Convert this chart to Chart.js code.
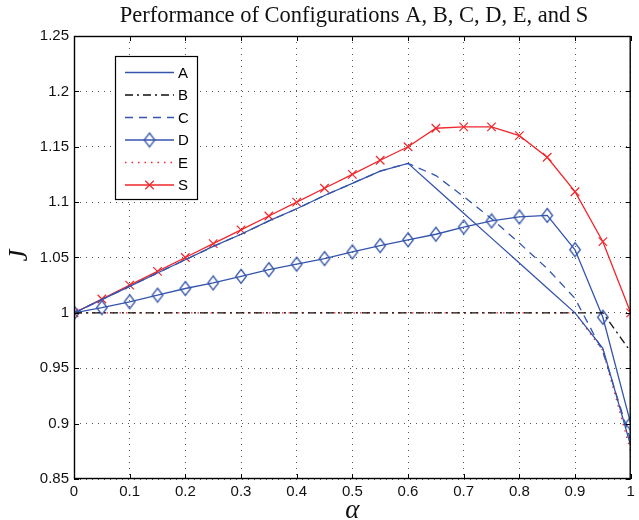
<!DOCTYPE html>
<html>
<head>
<meta charset="utf-8">
<script src="https://cdn.jsdelivr.net/npm/chart.js@4/dist/chart.umd.min.js"></script>
<style>
  html, body { margin: 0; padding: 0; background: #fff; }
  #wrap { width: 639px; height: 520px; }
</style>
</head>
<body>
<div id="wrap"><canvas id="c" width="639" height="520"></canvas></div>
<script>
// ---- data ----
const alpha = [0, 0.05, 0.1, 0.15, 0.2, 0.25, 0.3, 0.35, 0.4, 0.45, 0.5, 0.55, 0.6, 0.65, 0.7, 0.75, 0.8, 0.85, 0.9, 0.95, 1];
const seriesA = [1.000, 1.012, 1.024, 1.036, 1.048, 1.060, 1.071, 1.083, 1.094, 1.106, 1.117, 1.128, 1.135, 1.1125, 1.090, 1.0675, 1.045, 1.0225, 1.000, 0.968, 0.880];
const seriesB = [1, 1, 1, 1, 1, 1, 1, 1, 1, 1, 1, 1, 1, 1, 1, 1, 1, 1, 1, 1, 0.965];
const seriesC = [1.000, 1.012, 1.024, 1.036, 1.048, 1.060, 1.071, 1.083, 1.094, 1.106, 1.117, 1.128, 1.135, 1.124, 1.105, 1.085, 1.063, 1.040, 1.013, 0.965, 0.885];
const seriesD = [1.000, 1.0047, 1.010, 1.016, 1.022, 1.027, 1.033, 1.039, 1.044, 1.049, 1.055, 1.0607, 1.066, 1.071, 1.0775, 1.083, 1.0866, 1.088, 1.057, 0.996, 0.900];
const seriesE = [1, 1, 1, 1, 1, 1, 1, 1, 1, 1, 1, 1, 1, 1, 1, 1, 1, 1, 1, 0.966, 0.875];
const seriesS = [1.000, 1.0125, 1.025, 1.0375, 1.050, 1.0625, 1.075, 1.0875, 1.100, 1.1125, 1.125, 1.1378, 1.150, 1.1667, 1.168, 1.168, 1.160, 1.1405, 1.1094, 1.0643, 1.000];
const seriesNames = ['A', 'B', 'C', 'D', 'E', 'S'];
const xTickValues = [0, 0.1, 0.2, 0.3, 0.4, 0.5, 0.6, 0.7, 0.8, 0.9, 1];
const yTickValues = [0.85, 0.9, 0.95, 1, 1.05, 1.1, 1.15, 1.2, 1.25];
const titleText = 'Performance of Configurations A, B, C, D, E, and S';
const xLabelText = 'α';
const yLabelText = 'J';

// ---- styling ----
const BLUE = '#3455ac';
const RED = '#f2262b';
const BLACK = '#111111';
const LW = 1.3;

function pts(ys) { return alpha.map((x, i) => ({ x: x, y: ys[i] })); }

// hollow diamond marker (taller than wide, MATLAB style)
const diamond = document.createElement('canvas');
diamond.width = 14; diamond.height = 17;
(function () {
  const g = diamond.getContext('2d');
  g.strokeStyle = BLUE; g.lineWidth = 1.3;
  g.beginPath();
  g.moveTo(7, 1.5); g.lineTo(12.3, 8.5); g.lineTo(7, 15.5); g.lineTo(1.7, 8.5); g.closePath();
  g.stroke();
})();

const datasets = [
  { label: seriesNames[0], data: pts(seriesA), borderColor: BLUE, borderWidth: LW, pointRadius: 0, borderDash: [] },
  { label: seriesNames[1], data: pts(seriesB), borderColor: BLACK, borderWidth: LW, pointRadius: 0, borderDash: [8, 4, 2, 4] },
  { label: seriesNames[2], data: pts(seriesC), borderColor: BLUE, borderWidth: LW, pointRadius: 0, borderDash: [8, 6] },
  { label: seriesNames[3], data: pts(seriesD), borderColor: BLUE, borderWidth: LW, pointStyle: diamond, pointRadius: 7, borderDash: [] },
  { label: seriesNames[4], data: pts(seriesE), borderColor: RED, borderWidth: 1.4, pointRadius: 0, borderDash: [1.5, 5] },
  { label: seriesNames[5], data: pts(seriesS), borderColor: RED, borderWidth: LW, pointStyle: 'crossRot', pointRadius: 6, pointBorderColor: RED, pointBorderWidth: 1.2, borderDash: [] }
];
datasets.forEach(d => { d.fill = false; d.tension = 0; d.backgroundColor = 'transparent'; d.pointHoverRadius = d.pointRadius; });

function fmt(v) { return String(Number(v.toFixed(2))); }

const decor = {
  id: 'decor',
  afterDatasetsDraw(chart) {
    const ctx = chart.ctx, a = chart.chartArea;
    const xs = chart.scales.x, ys = chart.scales.y;
    ctx.save();
    // frame
    ctx.strokeStyle = '#000'; ctx.lineWidth = 1.4; ctx.setLineDash([]);
    ctx.strokeRect(a.left + 0.5, a.top + 0.5, a.right - a.left - 1, a.bottom - a.top - 1);
    // inward tick marks on all four sides
    ctx.lineWidth = 1;
    const L = 5;
    ctx.beginPath();
    xTickValues.forEach(v => {
      const px = Math.round(xs.getPixelForValue(v)) + 0.5;
      ctx.moveTo(px, a.bottom); ctx.lineTo(px, a.bottom - L);
      ctx.moveTo(px, a.top); ctx.lineTo(px, a.top + L);
    });
    yTickValues.forEach(v => {
      const py = Math.round(ys.getPixelForValue(v)) + 0.5;
      ctx.moveTo(a.left, py); ctx.lineTo(a.left + L, py);
      ctx.moveTo(a.right, py); ctx.lineTo(a.right - L, py);
    });
    ctx.stroke();

    // legend
    const bx = 115.5, by = 56.5, bw = 82, bh = 143;
    ctx.fillStyle = '#fff';
    ctx.fillRect(bx, by, bw, bh);
    ctx.strokeStyle = '#000'; ctx.lineWidth = 1.2;
    ctx.strokeRect(bx, by, bw, bh);
    const rowY = [72, 94.5, 117, 139.5, 162, 184.5];
    chart.data.datasets.forEach((d, i) => {
      const y = rowY[i] + 0.5;
      ctx.strokeStyle = d.borderColor; ctx.lineWidth = d.borderWidth;
      ctx.setLineDash(d.borderDash || []);
      ctx.beginPath(); ctx.moveTo(125, y); ctx.lineTo(174, y); ctx.stroke();
      ctx.setLineDash([]);
      if (d.pointStyle === diamond) {
        ctx.drawImage(diamond, 149.5 - 7, y - 8.5);
      } else if (d.pointStyle === 'crossRot') {
        const r = d.pointRadius * Math.SQRT1_2;
        ctx.strokeStyle = d.pointBorderColor; ctx.lineWidth = 1.2;
        ctx.beginPath();
        ctx.moveTo(149.5 - r, y - r); ctx.lineTo(149.5 + r, y + r);
        ctx.moveTo(149.5 - r, y + r); ctx.lineTo(149.5 + r, y - r);
        ctx.stroke();
      }
      ctx.fillStyle = '#000';
      ctx.font = '15px "Liberation Sans", Arial, sans-serif';
      ctx.textAlign = 'left'; ctx.textBaseline = 'middle';
      ctx.fillText(d.label, 178, y + 1);
    });

    // title
    ctx.fillStyle = '#111';
    ctx.textAlign = 'center'; ctx.textBaseline = 'middle';
    ctx.font = '22.5px "Liberation Serif", "Times New Roman", serif';
    ctx.fillText(titleText, 354, 16);
    // axis labels
    ctx.font = 'italic 27px "Liberation Serif", "Times New Roman", serif';
    ctx.fillText(xLabelText, (a.left + a.right) / 2, 511);
    ctx.save();
    ctx.translate(20, (a.top + a.bottom) / 2 - 2);
    ctx.rotate(-Math.PI / 2);
    ctx.fillText(yLabelText, 0, 0);
    ctx.restore();
    ctx.restore();
  }
};

new Chart(document.getElementById('c'), {
  type: 'line',
  data: { datasets: datasets },
  plugins: [decor],
  options: {
    responsive: false,
    animation: false,
    events: [],
    layout: { padding: { top: 36, right: 2, left: 0, bottom: 0 } },
    plugins: { legend: { display: false }, title: { display: false }, tooltip: { enabled: false } },
    scales: {
      x: {
        type: 'linear', min: 0, max: 1,
        afterFit: s => { s.height = 41; },
        afterBuildTicks: s => { s.ticks = xTickValues.map(v => ({ value: v })); },
        ticks: { callback: v => fmt(v), color: '#111', padding: 4, maxRotation: 0, autoSkip: false,
                 font: { family: '"Liberation Sans", Arial, sans-serif', size: 15 } },
        grid: { color: '#555', lineWidth: 1, drawTicks: false },
        border: { display: false, dash: [1, 5] }
      },
      y: {
        type: 'linear', min: 0.85, max: 1.25,
        afterFit: s => { s.width = 74; },
        afterBuildTicks: s => { s.ticks = yTickValues.map(v => ({ value: v })); },
        ticks: { callback: v => fmt(v), color: '#111', padding: 5, autoSkip: false,
                 font: { family: '"Liberation Sans", Arial, sans-serif', size: 15 } },
        grid: { color: '#555', lineWidth: 1, drawTicks: false },
        border: { display: false, dash: [1, 5] }
      }
    }
  }
});
</script>
</body>
</html>
